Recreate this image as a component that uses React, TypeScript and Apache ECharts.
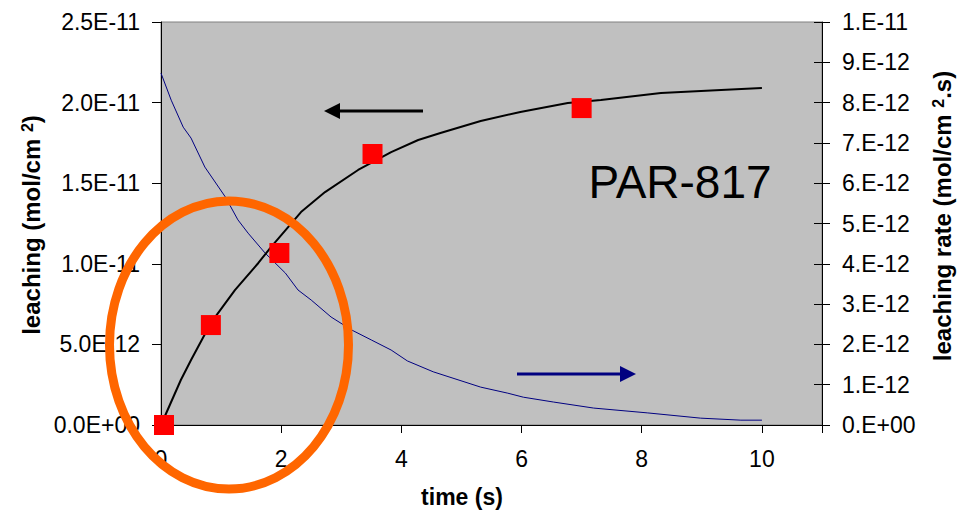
import React, { useEffect, useRef } from "react";
import * as echarts from "echarts";

// leaching curve (left axis, units of 1E-12 mol/cm2)
const leachTime = [0, 0.33, 0.5, 0.83, 1.23, 1.62, 1.83, 2.33, 2.73, 3.28, 3.83, 4.28, 4.65, 5.32, 5.98, 6.77, 7.32, 8.32, 9.32, 10.0];
const leachValue = [0, 2.79, 4.03, 6.33, 8.37, 10.05, 11.04, 13.21, 14.45, 15.82, 16.93, 17.68, 18.11, 18.86, 19.42, 19.97, 20.16, 20.59, 20.78, 20.9];

// leaching rate curve (right axis, units of 1E-12 mol/cm2.s)
const rateTime = [0, 0.17, 0.37, 0.5, 0.73, 1.07, 1.28, 1.45, 1.73, 2.07, 2.28, 2.5, 2.83, 3.17, 3.5, 3.83, 4.1, 4.53, 5.32, 5.77, 6.03, 6.53, 7.2, 8.1, 8.98, 9.65, 10.0];
const rateValue = [8.73, 8.06, 7.39, 7.12, 6.4, 5.66, 5.09, 4.76, 4.27, 3.77, 3.35, 3.1, 2.68, 2.36, 2.11, 1.86, 1.59, 1.32, 0.94, 0.79, 0.69, 0.57, 0.42, 0.3, 0.17, 0.12, 0.12];

// measured points (left axis)
const measTime = [0.05, 0.83, 1.97, 3.52, 7.0];
const measValue = [0, 6.2, 10.67, 16.81, 19.66];

const xTicks = [0, 2, 4, 6, 8, 10];
const UNIT = 1e-12;
const FONT = "'Liberation Sans', Arial, sans-serif";

function sci(v: number, digits: number): string {
  const real = v * UNIT;
  if (Math.abs(v) < 1e-9) {
    return (digits > 0 ? "0." + "0".repeat(digits) : "0.") + "E+00";
  }
  const s = real.toExponential(digits);
  const [m, e] = s.split("e");
  const ex = parseInt(e, 10);
  const mant = digits === 0 ? m + "." : m;
  return mant + "E" + (ex < 0 ? "-" : "+") + String(Math.abs(ex)).padStart(2, "0");
}

export default function App() {
  const ref = useRef<HTMLDivElement>(null);
  useEffect(() => {
    if (!ref.current) return;
    const chart = echarts.init(ref.current, null, { renderer: "svg" });
    const zip = (a: number[], b: number[]) => a.map((x, i) => [x, b[i]]);
    const titleRich = {
      b: { fontSize: 24, fontWeight: "bold", fontFamily: FONT, fill: "#000" },
      s: { fontSize: 16, fontWeight: "bold", fontFamily: FONT, fill: "#000", verticalAlign: "top" },
    };
    const option: any = {
      animation: false,
      backgroundColor: "#ffffff",
      grid: {
        left: 161,
        top: 22,
        right: 137,
        bottom: 85,
        show: true,
        backgroundColor: "#C0C0C0",
        borderColor: "#808080",
        borderWidth: 1,
      },
      xAxis: {
        type: "value",
        min: 0,
        max: 11,
        interval: 2,
        splitLine: { show: false },
        axisLine: { lineStyle: { color: "#000", width: 1 } },
        axisTick: { length: 8, lineStyle: { color: "#000" } },
        axisLabel: {
          margin: 22,
          fontSize: 23,
          color: "#000",
          fontFamily: FONT,
          formatter: (v: number) => (xTicks.indexOf(v) >= 0 ? String(v) : ""),
        },
      },
      yAxis: [
        {
          type: "value",
          position: "left",
          min: 0,
          max: 25,
          interval: 5,
          splitLine: { show: false },
          axisLine: { show: true, lineStyle: { color: "#000", width: 1 } },
          axisTick: { show: true, length: 9, lineStyle: { color: "#000" } },
          axisLabel: {
            margin: 21,
            fontSize: 23,
            color: "#000",
            fontFamily: FONT,
            formatter: (v: number) => sci(v, 1),
          },
        },
        {
          type: "value",
          position: "right",
          offset: 0,
          min: 0,
          max: 10,
          interval: 1,
          splitLine: { show: false },
          axisLine: { show: true, lineStyle: { color: "#000", width: 1 } },
          axisTick: { show: true, length: 8, lineStyle: { color: "#000" } },
          axisLabel: {
            margin: 20,
            fontSize: 23,
            color: "#000",
            fontFamily: FONT,
            formatter: (v: number) => sci(v, 0),
          },
        },
        {
          type: "value",
          position: "right",
          offset: 0,
          min: 0,
          max: 10,
          interval: 1,
          splitLine: { show: false },
          axisLine: { show: false },
          axisTick: { show: true, inside: true, length: 8, lineStyle: { color: "#000" } },
          axisLabel: { show: false },
        },
      ],
      series: [
        {
          type: "line",
          yAxisIndex: 1,
          data: zip(rateTime, rateValue),
          showSymbol: false,
          symbol: "none",
          lineStyle: { color: "#000080", width: 1 },
          z: 2,
        },
        {
          type: "line",
          yAxisIndex: 0,
          data: zip(leachTime, leachValue),
          showSymbol: false,
          symbol: "none",
          lineStyle: { color: "#000000", width: 2 },
          z: 3,
        },
        {
          type: "scatter",
          yAxisIndex: 0,
          data: zip(measTime, measValue),
          symbol: "rect",
          symbolSize: 20,
          clip: false,
          itemStyle: { color: "#FF0000", opacity: 1 },
          z: 4,
        },
      ],
      graphic: [
        {
          type: "text",
          x: 680,
          y: 182,
          z: 50,
          style: {
            text: "PAR-817",
            fill: "#000",
            font: "46px " + FONT,
            align: "center",
            verticalAlign: "middle",
          },
        },
        {
          type: "line",
          z: 50,
          shape: { x1: 338, y1: 111, x2: 423, y2: 111 },
          style: { stroke: "#000", lineWidth: 3 },
        },
        {
          type: "polygon",
          z: 50,
          shape: { points: [[324, 111], [340, 103], [340, 119]] },
          style: { fill: "#000" },
        },
        {
          type: "line",
          z: 50,
          shape: { x1: 517, y1: 374, x2: 622, y2: 374 },
          style: { stroke: "#000080", lineWidth: 3 },
        },
        {
          type: "polygon",
          z: 50,
          shape: { points: [[620, 366], [620, 382], [636, 374]] },
          style: { fill: "#000080" },
        },
        {
          type: "ellipse",
          z: 60,
          shape: { cx: 229, cy: 345, rx: 119.5, ry: 144 },
          style: { fill: "none", stroke: "#FF6600", lineWidth: 9 },
        },
        {
          type: "text",
          x: 462,
          y: 497,
          z: 50,
          style: {
            text: "time (s)",
            fill: "#000",
            font: "bold 23px " + FONT,
            align: "center",
            verticalAlign: "middle",
          },
        },
        {
          type: "text",
          x: 31,
          y: 225,
          rotation: Math.PI / 2,
          z: 50,
          style: {
            text: "{b|leaching (mol/cm }{s|2}{b|)}",
            align: "center",
            verticalAlign: "middle",
            rich: titleRich,
          },
        },
        {
          type: "text",
          x: 942,
          y: 216,
          rotation: Math.PI / 2,
          z: 50,
          style: {
            text: "{b|leaching rate (mol/cm }{s|2}{b|.s)}",
            align: "center",
            verticalAlign: "middle",
            rich: titleRich,
          },
        },
      ],
    };
    chart.setOption(option);
    return () => chart.dispose();
  }, []);
  return (
    <div
      ref={ref}
      style={{ position: "absolute", left: 0, top: 0, width: 959, height: 510 }}
    />
  );
}
